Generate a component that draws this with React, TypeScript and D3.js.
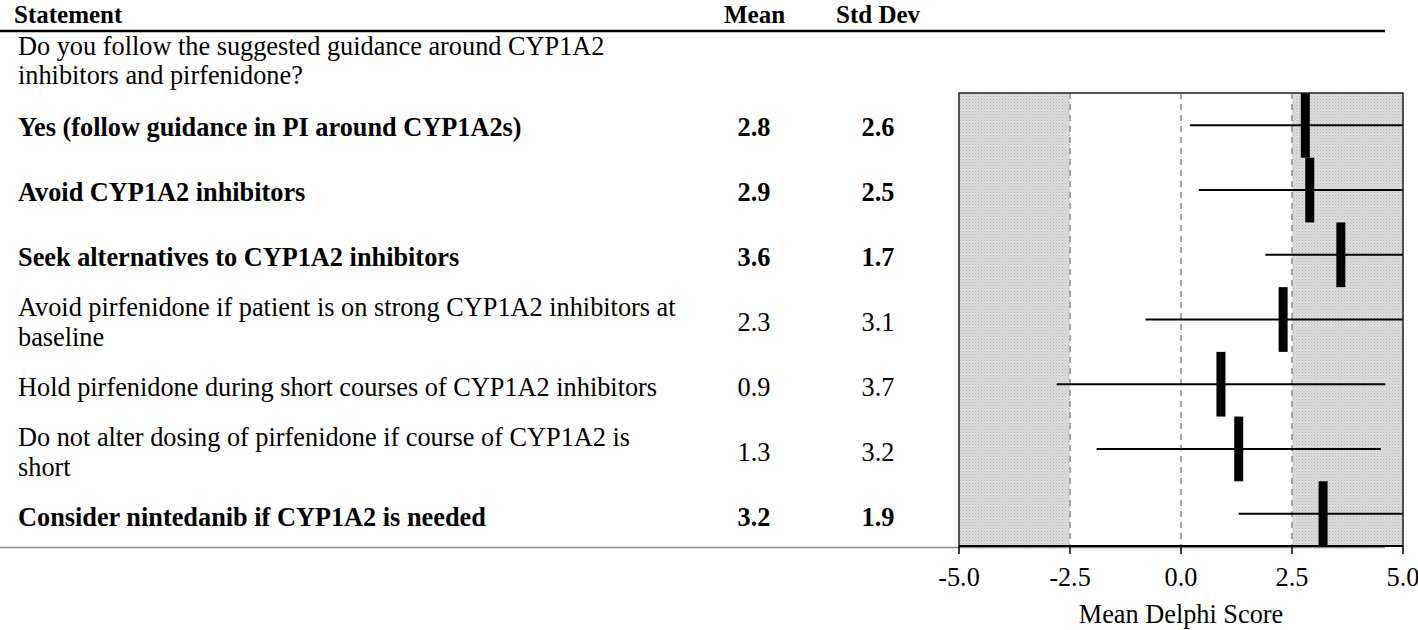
import React from "react";
import * as d3 from "d3";

const statements: string[][] = [
  ["Yes (follow guidance in PI around CYP1A2s)"],
  ["Avoid CYP1A2 inhibitors"],
  ["Seek alternatives to CYP1A2 inhibitors"],
  ["Avoid pirfenidone if patient is on strong CYP1A2 inhibitors at", "baseline"],
  ["Hold pirfenidone during short courses of CYP1A2 inhibitors"],
  ["Do not alter dosing of pirfenidone if course of CYP1A2 is", "short"],
  ["Consider nintedanib if CYP1A2 is needed"],
];
const means = [2.8, 2.9, 3.6, 2.3, 0.9, 1.3, 3.2];
const sds = [2.6, 2.5, 1.7, 3.1, 3.7, 3.2, 1.9];
const boldRows = [true, true, true, false, false, false, true];
const questionLines = [
  "Do you follow the suggested guidance around CYP1A2",
  "inhibitors and pirfenidone?",
];
const xTicks = [-5, -2.5, 0, 2.5, 5];
const refLines = [-2.5, 0, 2.5];
const shadedRanges: [number, number][] = [
  [-5, -2.5],
  [2.5, 5],
];

const W = 1418;
const H = 630;
const FONT = "'Liberation Serif', 'Times New Roman', serif";
const FS = 26.3;

export default function App() {
  const x = d3.scaleLinear().domain([-5, 5]).range([959, 1403]);
  const y = d3
    .scaleBand<number>()
    .domain(d3.range(means.length))
    .range([93, 546])
    .padding(0);
  const yt = d3
    .scaleBand<number>()
    .domain(d3.range(means.length))
    .range([95, 550])
    .padding(0);
  const bw = y.bandwidth();
  const clamp = (v: number) => Math.max(-5, Math.min(5, v));

  return (
    <svg
      width={W}
      height={H}
      style={{ position: "absolute", left: 0, top: 0, background: "#fff" }}
      fontFamily={FONT}
    >
      <defs>
        <pattern id="stip" width="3" height="3" patternUnits="userSpaceOnUse">
          <rect width="3" height="3" fill="#dedede" />
          <rect x="0" y="0" width="1" height="1" fill="#b8b8b8" />
          <rect x="1.5" y="1.5" width="1" height="1" fill="#c4c4c4" />
        </pattern>
      </defs>

      {/* header */}
      <g fontSize={25} fontWeight="bold">
        <text x={14} y={23}>Statement</text>
        <text x={724} y={23}>Mean</text>
        <text x={836} y={23}>Std Dev</text>
      </g>
      <line x1={0} x2={1385} y1={31} y2={31} stroke="#000" strokeWidth={2.5} />

      {questionLines.map((t, i) => (
        <text key={t} x={18} y={55 + i * 29} fontSize={FS}>
          {t}
        </text>
      ))}

      {/* table rows */}
      {statements.map((lines, i) => {
        const c = (yt(i) as number) + yt.bandwidth() / 2;
        const fw = boldRows[i] ? "bold" : "normal";
        const n = lines.length;
        const base = c + 8.5;
        return (
          <g key={i} fontWeight={fw} fontSize={FS}>
            {lines.map((t, j) => (
              <text key={j} x={18} y={base + (j - (n - 1) / 2) * 30}>
                {t}
              </text>
            ))}
            <text x={754} y={base} textAnchor="middle">
              {means[i].toFixed(1)}
            </text>
            <text x={878} y={base} textAnchor="middle">
              {sds[i].toFixed(1)}
            </text>
          </g>
        );
      })}

      {/* plot background */}
      {shadedRanges.map(([a, b], i) => (
        <rect
          key={i}
          x={x(a)}
          y={93}
          width={x(b) - x(a)}
          height={546 - 93}
          fill="url(#stip)"
        />
      ))}
      {refLines.map((v) => (
        <line
          key={v}
          x1={x(v)}
          x2={x(v)}
          y1={93}
          y2={546}
          stroke="#a6a6a6"
          strokeWidth={2}
          strokeDasharray="6,5"
        />
      ))}

      {/* error lines and means */}
      {means.map((m, i) => {
        const c = (y(i) as number) + bw / 2;
        return (
          <g key={i}>
            <line
              x1={x(clamp(m - sds[i]))}
              x2={x(clamp(m + sds[i]))}
              y1={c}
              y2={c}
              stroke="#000"
              strokeWidth={2}
            />
            <rect
              x={x(m) - 4.5}
              y={y(i) as number}
              width={9}
              height={bw}
              fill="#000"
            />
          </g>
        );
      })}

      {/* frame */}
      <rect
        x={x(-5)}
        y={93}
        width={x(5) - x(-5)}
        height={546 - 93}
        fill="none"
        stroke="#222"
        strokeWidth={1.5}
      />
      <line x1={0} x2={1385} y1={547.5} y2={547.5} stroke="#8a8a8a" strokeWidth={1.5} />
      <line x1={x(-5)} x2={x(5)} y1={546} y2={546} stroke="#000" strokeWidth={2} />
      {xTicks.map((t) => (
        <g key={t}>
          <line x1={x(t)} x2={x(t)} y1={546} y2={554} stroke="#000" strokeWidth={1.5} />
          <text x={x(t)} y={586} fontSize={FS} textAnchor="middle">
            {t.toFixed(1)}
          </text>
        </g>
      ))}
      <text x={x(0)} y={623} fontSize={FS} textAnchor="middle">
        Mean Delphi Score
      </text>
    </svg>
  );
}
